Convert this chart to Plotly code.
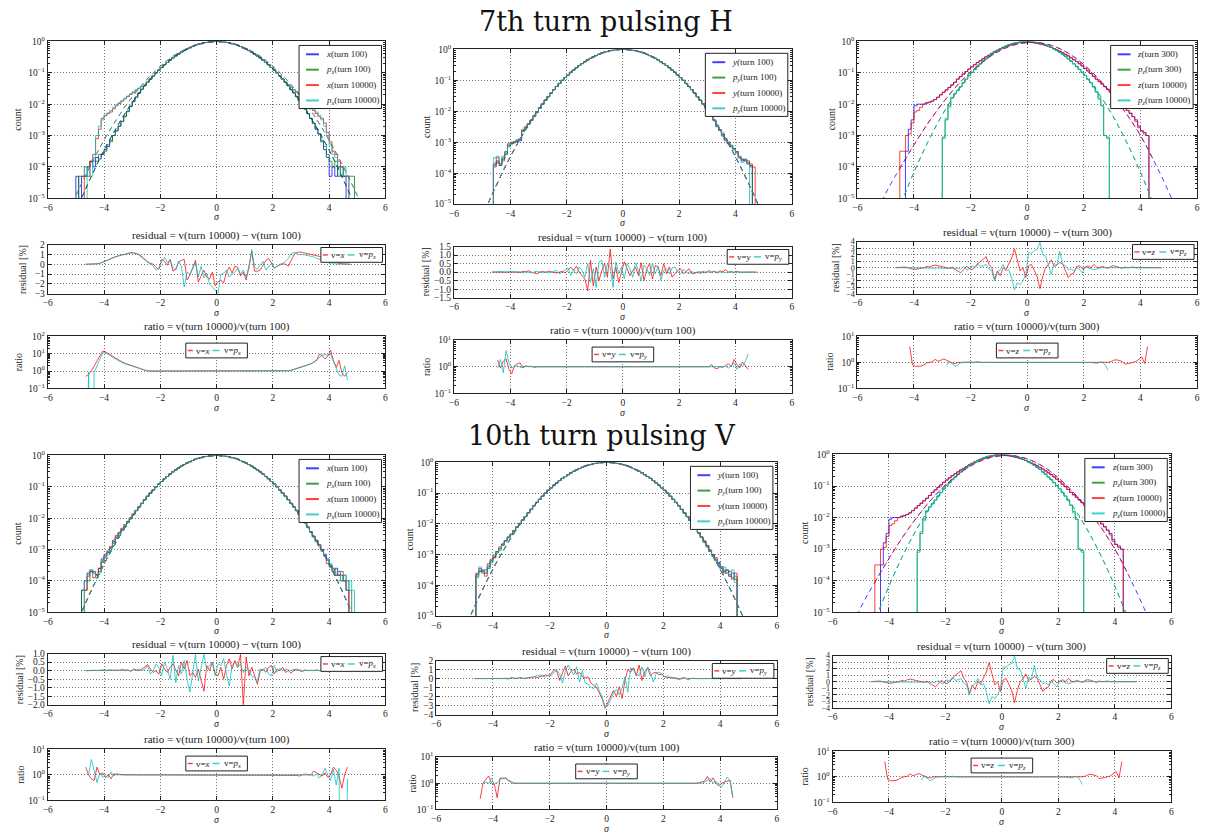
import plotly.graph_objects as go

W, H = 1212, 838
BIN = 0.1
FLOOR = 1e-12

# ---------------- histogram heights: log10 of normalised counts, 0.1-sigma bins ----------------
# shared centre of the transverse planes, bins centred -2.45 ... 2.45
CORE_GAUSS = [
    -1.30, -1.20, -1.10, -1.00, -0.91, -0.83, -0.74, -0.67, -0.59, -0.52,
    -0.46, -0.40, -0.34, -0.29, -0.24, -0.20, -0.16, -0.12, -0.09, -0.07,
    -0.04, -0.03, -0.01, -0.01, 0.00, 0.00, -0.01, -0.01, -0.03, -0.04,
    -0.07, -0.09, -0.12, -0.16, -0.20, -0.24, -0.29, -0.34, -0.40, -0.46,
    -0.52, -0.59, -0.67, -0.74, -0.83, -0.91, -1.00, -1.10, -1.20, -1.30,
]

# 7th turn pulsing H, x plane.  *_L tails end at bin -2.55, *_R tails start at bin 2.55
H_X100_L = [-4.3, None, -4.3, -4.3, -4.0, -3.82, -4.0, -3.7, -3.75, -3.6, -3.45, -3.35, -3.15,
            -3.0, -2.85, -2.7, -2.55, -2.38, -2.22, -2.07, -1.91, -1.77, -1.64, -1.52, -1.40]
H_X100_R = [-1.41, -1.53, -1.64, -1.76, -1.89, -2.02, -2.15, -2.3, -2.45, -2.6, -2.8, -2.95,
            -3.2, -3.45, -3.7, -4.3, -4.0, -4.3, -4.0, -4.3, -4.3]
H_PX100_L = [None, -4.3, -4.3, -4.0, -4.0, -3.82, -3.82, -3.82, -3.6, -3.6, -3.5, -3.3, -3.2,
             -3.0, -2.85, -2.7, -2.55, -2.4, -2.24, -2.08, -1.92, -1.78, -1.65, -1.53, -1.41]
H_PX100_R = [-1.41, -1.53, -1.64, -1.76, -1.89, -2.02, -2.16, -2.3, -2.46, -2.62, -2.78, -2.95,
             -3.15, -3.35, -3.6, -3.82, -4.0, -3.82, -4.3, -4.0, -4.3, -4.3, -4.3, -4.3]
H_X10K_L = [None, None, None, -4.3, -4.3, -3.82, -3.6, -3.1, -2.8, -2.45, -2.35, -2.3, -2.25,
            -2.15, -2.05, -1.98, -1.9, -1.83, -1.76, -1.69, -1.62, -1.55, -1.49, -1.44, -1.39]
H_X10K_R = [-1.38, -1.46, -1.54, -1.62, -1.7, -1.8, -1.9, -2.0, -2.1, -2.2, -2.3, -2.4,
            -2.45, -2.6, -2.9, -3.2, -3.5, -3.6, -3.82, -4.0, -4.3, -4.3]
H_PX10K_L = [None, None, None, None, -4.0, -4.3, -3.7, -3.0, -2.7, -2.5, -2.38, -2.28, -2.2,
             -2.1, -2.02, -1.95, -1.88, -1.81, -1.74, -1.67, -1.61, -1.55, -1.49, -1.44, -1.39]
H_PX10K_R = [-1.38, -1.45, -1.53, -1.61, -1.69, -1.78, -1.87, -1.96, -2.05, -2.15, -2.25, -2.35,
             -2.5, -2.7, -3.0, -3.3, -3.6, -3.7, -4.0, -4.3, -4.0, -4.3]

# 7th turn pulsing H, y plane
H_Y100_L = [None, None, None, None, -3.70, -3.65, -3.75, -3.55, -3.35, -3.10, -3.05, -3.00, -2.98,
            -2.95, -2.62, -2.52, -2.42, -2.30, -2.17, -2.03, -1.90, -1.77, -1.64, -1.53, -1.41]
H_Y100_R = [-1.41, -1.53, -1.64, -1.76, -1.89, -2.02, -2.15, -2.29, -2.5, -2.6, -2.75, -2.9,
            -3.0, -3.1, -3.2, -3.35, -3.5, -3.6, -3.55, -3.7, -3.75]
H_PY100_L = [None, None, None, None, -3.75, -3.60, -3.70, -3.50, -3.40, -3.15, -3.05, -2.98, -2.95,
             -2.90, -2.66, -2.55, -2.42, -2.29, -2.16, -2.02, -1.89, -1.77, -1.64, -1.53, -1.41]
H_PY100_R = [-1.41, -1.53, -1.64, -1.76, -1.89, -2.02, -2.15, -2.3, -2.45, -2.62, -2.8, -2.88,
             -3.05, -3.12, -3.25, -3.3, -3.5, -3.55, -3.6, -3.65, -3.8]
H_Y10K_L = [None, None, None, None, -3.80, -3.50, -3.70, -3.60, -3.30, -3.05, -3.00, -3.02, -2.92,
            -2.90, -2.60, -2.50, -2.40, -2.28, -2.14, -2.03, -1.88, -1.76, -1.65, -1.52, -1.41]
H_Y10K_R = [-1.41, -1.53, -1.65, -1.76, -1.88, -2.02, -2.16, -2.28, -2.45, -2.6, -2.7, -2.95,
            -3.0, -3.15, -3.2, -3.3, -3.45, -3.55, -3.6, -3.6, -3.7, -3.8]
H_PY10K_L = [None, None, None, None, -3.50, -3.45, -3.70, -3.45, -3.30, -3.10, -3.00, -3.00, -2.95,
             -2.88, -2.64, -2.52, -2.41, -2.28, -2.16, -2.02, -1.90, -1.76, -1.64, -1.53, -1.41]
H_PY10K_R = [-1.41, -1.52, -1.64, -1.77, -1.89, -2.03, -2.15, -2.28, -2.48, -2.6, -2.78, -2.9,
             -3.02, -3.1, -3.22, -3.32, -3.5, -3.65, -3.55, -3.7]

# longitudinal plane (same in both runs): z tails end at -2.55 / start at 2.55
CORE_Z = [
    -1.20, -1.12, -1.04, -0.96, -0.88, -0.81, -0.74, -0.67, -0.61, -0.55,
    -0.49, -0.44, -0.38, -0.33, -0.28, -0.24, -0.20, -0.16, -0.13, -0.10,
    -0.07, -0.05, -0.03, -0.02, -0.02, -0.02, -0.03, -0.04, -0.06, -0.08,
    -0.10, -0.13, -0.16, -0.19, -0.23, -0.27, -0.31, -0.36, -0.41, -0.46,
    -0.52, -0.58, -0.64, -0.71, -0.78, -0.86, -0.94, -1.02, -1.11, -1.20,
]
Z300_L = [None, None, -3.5, -2.8, -2.5, -2.05, -2.0, -2.0, -2.0, -1.97,
          -1.93, -1.9, -1.85, -1.78, -1.7, -1.62, -1.55, -1.47, -1.39, -1.3]
Z300_R = [-1.28, -1.36, -1.44, -1.53, -1.62, -1.7, -1.8, -1.9, -2.0,
          -2.1, -2.2, -2.3, -2.4, -2.5, -2.7, -2.85, -2.9, -3.0]
Z10K_L = [-3.5, -3.5, -3.0, -2.95, -2.6, -2.25, -2.2, -2.1, -2.0, -1.95,
          -1.95, -1.9, -1.85, -1.78, -1.7, -1.62, -1.54, -1.46, -1.38, -1.3]
Z10K_R = [-1.28, -1.35, -1.44, -1.52, -1.6, -1.7, -1.8, -1.88, -1.98,
          -2.1, -2.2, -2.28, -2.4, -2.55, -2.75, -2.85, -2.95, -3.0]
# p_z histograms, bins centred -2.95 ... 2.85
PZ300 = [
    -3.05, -2.5, -2.05, -1.8, -1.67, -1.56, -1.44, -1.32, -1.2, -1.09,
    -0.99, -0.89, -0.8, -0.71, -0.63, -0.55, -0.47, -0.41, -0.34, -0.29,
    -0.235, -0.19, -0.147, -0.11, -0.079, -0.053, -0.032, -0.016, -0.006, -0.001,
    -0.001, -0.006, -0.016, -0.032, -0.053, -0.079, -0.11, -0.147, -0.19, -0.235,
    -0.29, -0.34, -0.41, -0.47, -0.55, -0.63, -0.71, -0.8, -0.89, -0.99,
    -1.09, -1.2, -1.32, -1.44, -1.6, -1.8, -2.05, -3.0, -3.05,
]
PZ10K = [
    -3.1, -2.45, -2.1, -1.78, -1.65, -1.55, -1.45, -1.31, -1.21, -1.08,
    -0.98, -0.9, -0.79, -0.72, -0.62, -0.56, -0.47, -0.4, -0.35, -0.28,
    -0.24, -0.18, -0.15, -0.1, -0.08, -0.05, -0.035, -0.012, -0.01, 0.0,
    0.0, -0.01, -0.012, -0.035, -0.05, -0.08, -0.1, -0.15, -0.18, -0.24,
    -0.28, -0.35, -0.4, -0.47, -0.56, -0.62, -0.72, -0.79, -0.9, -0.98,
    -1.08, -1.21, -1.31, -1.45, -1.62, -1.85, -2.05, -3.0, -3.1,
]

# 10th turn pulsing V, x plane
V_X100_L = [None, None, -4.3, -4.0, -3.75, -3.7, -3.75, -3.8, -3.6, -3.3, -3.2, -3.05, -2.95,
            -2.75, -2.6, -2.48, -2.35, -2.25, -2.12, -2.0, -1.88, -1.76, -1.64, -1.53, -1.41]
V_X100_R = [-1.41, -1.53, -1.64, -1.76, -1.89, -2.02, -2.15, -2.29, -2.44, -2.58, -2.72, -2.85,
            -3.0, -3.15, -3.3, -3.5, -3.7, -3.6, -3.82, -3.82, -4.0, -4.3]
V_PX100_L = [None, None, -4.3, -4.3, -4.0, -3.65, -3.7, -3.82, -3.7, -3.4, -3.25, -3.1, -2.95,
             -2.8, -2.65, -2.5, -2.38, -2.27, -2.14, -2.02, -1.89, -1.76, -1.64, -1.53, -1.41]
V_PX100_R = [-1.41, -1.53, -1.64, -1.76, -1.89, -2.02, -2.15, -2.29, -2.43, -2.57, -2.72, -2.88,
             -3.02, -3.2, -3.35, -3.5, -3.65, -3.82, -3.7, -4.0, -3.82, -4.0, -4.3]
V_X10K_L = [None, None, None, -4.3, -3.85, -3.7, -3.9, -3.8, -3.6, -3.4, -3.15, -3.1, -2.9,
            -2.7, -2.55, -2.45, -2.32, -2.2, -2.1, -1.98, -1.86, -1.75, -1.64, -1.52, -1.41]
V_X10K_R = [-1.41, -1.52, -1.64, -1.75, -1.88, -2.0, -2.14, -2.28, -2.44, -2.6, -2.7, -2.85,
            -3.0, -3.2, -3.45, -3.55, -3.6, -3.82, -3.82, -3.7, -4.0, -4.3]
V_PX10K_L = [None, None, None, -4.0, -3.8, -3.65, -3.7, -3.9, -3.75, -3.35, -3.2, -3.08, -2.98,
             -2.78, -2.62, -2.48, -2.36, -2.24, -2.12, -2.0, -1.88, -1.76, -1.64, -1.53, -1.41]
V_PX10K_R = [-1.41, -1.53, -1.65, -1.76, -1.89, -2.02, -2.16, -2.3, -2.45, -2.6, -2.75, -2.88,
             -3.05, -3.2, -3.35, -3.45, -3.6, -3.75, -3.7, -4.0, -3.82, -4.3, -4.0, -4.3]

# 10th turn pulsing V, y plane
V_Y100_L = [None, None, None, None, -3.65, -3.55, -3.5, -3.6, -3.4, -3.2, -3.05, -2.9, -2.8,
            -2.65, -2.55, -2.45, -2.35, -2.22, -2.1, -2.0, -1.88, -1.76, -1.64, -1.53, -1.41]
V_Y100_R = [-1.41, -1.53, -1.64, -1.76, -1.89, -2.02, -2.15, -2.29, -2.43, -2.57, -2.7, -2.85,
            -3.0, -3.15, -3.25, -3.4, -3.55, -3.5, -3.7, -3.6, -3.8]
V_PY100_L = [None, None, None, None, -3.7, -3.5, -3.6, -3.5, -3.45, -3.25, -3.1, -2.95, -2.85,
             -2.7, -2.55, -2.42, -2.33, -2.22, -2.1, -1.99, -1.88, -1.76, -1.64, -1.53, -1.41]
V_PY100_R = [-1.41, -1.53, -1.64, -1.76, -1.89, -2.02, -2.16, -2.3, -2.44, -2.6, -2.72, -2.88,
             -3.02, -3.2, -3.3, -3.45, -3.5, -3.6, -3.55, -3.75, -3.7]
V_Y10K_L = [None, None, None, None, -3.6, -3.45, -3.55, -3.7, -3.3, -3.15, -3.1, -2.9, -2.75,
            -2.68, -2.55, -2.44, -2.34, -2.21, -2.1, -1.98, -1.87, -1.76, -1.64, -1.52, -1.41]
V_Y10K_R = [-1.41, -1.53, -1.65, -1.76, -1.88, -2.02, -2.15, -2.28, -2.42, -2.55, -2.72, -2.9,
            -3.0, -3.1, -3.3, -3.4, -3.6, -3.5, -3.65, -3.8, -3.6]
V_PY10K_L = [None, None, None, None, -3.75, -3.4, -3.5, -3.6, -3.35, -3.2, -3.0, -2.92, -2.8,
             -2.7, -2.56, -2.45, -2.34, -2.22, -2.11, -2.0, -1.88, -1.76, -1.64, -1.53, -1.41]
V_PY10K_R = [-1.41, -1.52, -1.64, -1.77, -1.89, -2.03, -2.15, -2.3, -2.45, -2.58, -2.75, -2.85,
             -3.05, -3.15, -3.3, -3.5, -3.4, -3.6, -3.7, -3.5, -3.9]

# ---------------- Gaussian fits (log10), sampled every 0.5 sigma ----------------
FIT_SIGMA = [-5.5, -5.0, -4.5, -4.0, -3.5, -3.0, -2.5, -2.0, -1.5, -1.0, -0.5, 0.0,
             0.5, 1.0, 1.5, 2.0, 2.5, 3.0, 3.5, 4.0, 4.5, 5.0, 5.5]
FIT_UNIT = [-6.57, -5.43, -4.40, -3.47, -2.66, -1.95, -1.36, -0.87, -0.49, -0.22, -0.05, 0.0,
            -0.05, -0.22, -0.49, -0.87, -1.36, -1.95, -2.66, -3.47, -4.40, -5.43, -6.57]
FIT_WIDE = [-5.96, -4.92, -3.99, -3.15, -2.41, -1.77, -1.23, -0.79, -0.44, -0.20, -0.05, 0.0,
            -0.05, -0.20, -0.44, -0.79, -1.23, -1.77, -2.41, -3.15, -3.99, -4.92, -5.96]
FIT_Z = [-5.9, -4.85, -4.05, -3.3, -2.6, -1.98, -1.43, -0.97, -0.6, -0.31, -0.12, -0.04,
         -0.05, -0.17, -0.4, -0.74, -1.17, -1.7, -2.3, -3.0, -3.85, -4.8, -5.85]
FIT_PZ = [-7.88, -6.51, -5.28, -4.17, -3.19, -2.34, -1.63, -1.04, -0.59, -0.26, -0.065, 0.0,
          -0.065, -0.26, -0.59, -1.04, -1.63, -2.34, -3.19, -4.17, -5.28, -6.51, -7.88]

# ---------------- residuals [%], points every 0.1 sigma from -4.65 ----------------
RES_START = -4.65
RES_H_X = [
    0.0, 0.0, 0.0, 0.02, 0.05, 0.1, 0.2, 0.3, 0.4, 0.55,
    0.7, 0.8, 0.9, 0.95, 1.0, 1.1, 1.15, 1.15, 1.1, 1.0,
    0.75, 0.5, 0.25, 0.1, 0.0, -0.3, -0.5, 0.5, 0.3, -0.1,
    0.5, -0.7, -0.5, 0.2, 0.4, 0.5, -1.6, -1.1, -0.4, 0.4,
    -1.8, -1.2, -0.6, -1.3, -1.5, -0.8, -2.2, -1.8, -1.6, -1.9,
    -0.8, -0.3, -0.9, -0.2, -0.3, -1.2, -0.8, -1.6, -0.3, 1.3,
    -0.7, -0.7, -0.6, -0.1, 0.4, 0.6, 0.1, -0.4, -0.2, -0.1,
    0.05, 0.0, -0.2, 0.4, 1.0, 1.2, 1.25, 1.2, 1.1, 1.05,
    1.0, 0.95, 0.9, 0.8, 0.7, 0.55, 0.45, 0.35, 0.25, 0.15,
    0.1, 0.05, 0.02, 0.0, 0.0,
]
RES_H_PX = [
    0.0, 0.0, 0.0, 0.02, 0.05, 0.1, 0.2, 0.3, 0.45, 0.6,
    0.7, 0.85, 0.9, 0.95, 1.05, 1.15, 1.2, 1.15, 1.1, 0.9,
    0.7, 0.45, 0.2, 0.05, -0.2, -0.6, -0.4, 0.3, 0.7, 0.2,
    0.4, -0.3, -0.6, 0.3, -0.2, -2.3, -0.8, -1.0, -0.5, 0.2,
    -1.3, -0.2, -1.4, -0.9, -2.0, -2.3, -2.6, -2.95, -1.0, -0.9,
    -0.6, -1.3, -1.0, -0.8, -0.4, -1.0, -0.6, -1.3, -0.5, 1.5,
    -0.3, -0.5, -0.1, 0.3, -0.6, -0.3, 0.1, -0.4, -0.2, 0.0,
    0.1, 0.3, 0.6, 1.1, 1.2, 1.05, 0.95, 1.0, 0.95, 0.9,
    0.85, 0.75, 0.6, 0.5, 0.4, 0.3, 0.2, 0.12, 0.06, 0.03,
    0.01, 0.0, 0.0, 0.0, 0.0,
]
RES_H_Y = [
    0.0, 0.0, 0.02, 0.0, 0.03, 0.02, 0.0, 0.04, 0.02, 0.0,
    -0.02, 0.05, 0.03, 0.08, 0.0, -0.05, -0.1, 0.0, 0.05, -0.02,
    0.05, 0.02, 0.0, -0.05, 0.0, 0.05, -0.05, 0.1, 0.3, 0.1,
    0.35, 0.0, -0.2, -0.4, -1.1, 0.7, -0.8, 0.3, -0.5, 0.1,
    0.5, -0.3, 1.35, -0.4, 0.3, -0.6, 0.0, 0.6, 0.2, -0.2,
    0.1, 0.3, -0.2, 0.55, -0.5, 0.2, 0.5, -0.4, 0.4, 0.3,
    -0.2, 0.5, -0.1, 0.3, -0.3, -0.1, 0.1, 0.2, -0.1, 0.05,
    0.2, -0.1, -0.05, 0.0, -0.08, 0.05, -0.05, 0.1, 0.0, 0.05,
    -0.05, 0.08, 0.02, 0.15, 0.0, 0.03, -0.02, 0.05, 0.0, 0.02,
    0.0, 0.01, 0.0, 0.0, 0.0,
]
RES_H_PY = [
    0.0, 0.02, 0.03, 0.05, 0.02, 0.0, 0.03, 0.02, 0.05, 0.0,
    0.02, -0.05, 0.03, 0.0, -0.05, 0.02, 0.05, 0.0, -0.02, 0.03,
    -0.05, 0.0, 0.05, 0.1, -0.1, 0.0, 0.1, 0.25, -0.2, 0.15,
    -0.1, 0.3, 0.1, -0.3, 0.5, -0.6, 0.2, -0.9, 0.6, 0.7,
    -0.3, 0.5, 0.3, -0.9, 0.6, -0.1, 0.3, -0.4, 0.5, 0.2,
    -0.3, 0.55, 0.1, -0.5, 0.4, 0.2, -0.2, 0.5, -0.1, 0.35,
    -0.5, 0.1, 0.2, -0.1, 0.25, 0.3, 0.0, -0.1, 0.15, 0.0,
    -0.1, 0.05, -0.1, 0.0, 0.05, -0.05, 0.03, 0.0, -0.03, 0.05,
    0.0, 0.02, 0.0, -0.02, 0.01, 0.0, 0.0, 0.0, 0.0, 0.0,
    0.0, 0.0, 0.0, 0.0, 0.0,
]
RES_Z = [
    0.0, 0.05, 0.1, 0.1, 0.05, -0.1, -0.2, -0.25, -0.2, -0.1,
    0.0, 0.2, 0.1, 0.3, 0.4, 0.3, 0.2, 0.1, 0.0, -0.1,
    0.1, -0.3, -0.5, -0.8, -0.3, 0.2, -0.1, -0.3, 0.0, 0.5,
    1.0, 1.3, 1.7, 0.5, 0.0, -1.8, -0.5, -1.2, 0.0, -0.3,
    0.5, 1.5, 2.9, 1.2, -0.5, 0.0, -1.5, 0.3, 0.5, -0.4,
    -1.4, -3.2, -1.3, 0.0, 0.5, 1.2, 0.2, 0.4, 0.8, 0.6,
    -0.5, -1.5, -1.0, -0.8, 0.2, 0.3, -0.2, 0.0, 0.3, 0.0,
    0.5, 0.1, 0.0, 0.2, 0.0, -0.1, 0.2, 0.3, 0.2, 0.0,
    -0.1, 0.1, 0.0, 0.05, 0.1, 0.0, 0.05, 0.0, 0.0, 0.0,
    0.0, 0.0, 0.0, 0.0, 0.0,
]
RES_PZ = [
    0.0, 0.0, 0.0, 0.0, 0.0, 0.0, 0.0, 0.0, 0.0, 0.0,
    0.0, 0.0, 0.0, 0.0, 0.0, 0.0, 0.0, 0.0, 0.0, 0.0,
    0.0, 0.0, -0.1, -0.2, 0.2, -0.3, -0.2, 0.3, 0.1, 0.7,
    0.2, 0.3, 0.5, -0.2, -0.5, -2.0, -0.6, -0.3, 0.5, -0.5,
    -0.3, -1.6, -3.4, -2.3, -2.6, -2.0, -1.0, 2.3, 2.2, 2.6,
    2.8, 3.9, 2.0, 1.8, 0.5, -1.0, 0.7, 0.4, 2.5, 0.5,
    0.3, -0.3, -0.2, -0.5, 0.0, -0.3, -0.8, 0.1, 0.0, -0.2,
    -0.3, -0.2, 0.0, 0.0, 0.0, 0.0, 0.0, 0.0, 0.0, 0.0,
    0.0, 0.0, 0.0, 0.0, 0.0, 0.0, 0.0, 0.0, 0.0, 0.0,
    0.0, 0.0, 0.0, 0.0, 0.0,
]
RES_V_X = [
    0.0, 0.0, 0.02, 0.0, 0.03, 0.0, 0.02, 0.0, 0.03, 0.05,
    0.0, 0.05, 0.02, 0.08, 0.0, 0.05, -0.05, 0.1, 0.05, 0.0,
    0.1, 0.2, 0.35, 0.1, -0.1, 0.0, -0.2, 0.4, 0.1, -0.1,
    0.2, 0.4, 0.0, -0.3, 0.5, 0.1, 0.6, -0.3, -0.1, -0.4,
    0.1, -0.6, -1.2, 0.3, 0.0, 0.5, -0.2, -0.3, 0.2, -0.5,
    0.3, 0.7, 0.1, 0.6, 0.2, 0.95, -2.0, 0.8, -0.3, 0.2,
    -0.3, -0.8, 0.0, 0.1, -0.1, 0.2, 0.3, -0.2, 0.1, 0.0,
    0.2, -0.1, 0.0, -0.15, 0.05, 0.1, 0.0, -0.05, 0.05, 0.0,
    0.03, 0.0, 0.05, 0.0, 0.02, 0.0, 0.05, 0.02, 0.0, 0.03,
    0.0, 0.0, 0.0, 0.0, 0.0,
]
RES_V_PX = [
    0.0, 0.02, 0.0, 0.03, 0.0, 0.02, 0.05, 0.0, 0.03, 0.0,
    0.05, 0.0, 0.03, 0.0, 0.05, 0.02, 0.0, 0.05, 0.0, 0.1,
    0.0, 0.1, 0.3, -0.2, 0.0, 0.4, 0.2, -0.3, 0.5, 0.1,
    -0.5, 0.9, -0.7, 0.3, -0.2, 0.6, -0.5, -1.25, 0.0, 0.95,
    -0.6, 0.2, 0.95, 0.1, 0.3, 0.5, -0.3, 0.4, 0.3, 0.7,
    -0.2, -0.9, 0.3, 0.5, 0.2, 0.4, -0.1, 0.2, 0.0, -0.3,
    -0.4, -0.6, 0.1, 0.0, 0.2, -0.2, -0.3, 0.3, -0.1, 0.15,
    0.0, 0.1, 0.05, 0.0, 0.1, 0.0, 0.05, 0.0, 0.03, 0.0,
    0.0, 0.02, 0.0, 0.0, 0.0, 0.0, 0.0, 0.0, 0.0, 0.0,
    0.0, 0.0, 0.0, 0.0, 0.0,
]
RES_V_Y = [
    0.0, 0.0, 0.02, 0.0, -0.02, 0.03, 0.0, 0.02, 0.05, 0.0,
    0.05, 0.0, -0.05, 0.08, 0.05, 0.0, 0.1, 0.05, 0.0, 0.1,
    0.1, 0.2, 0.1, 0.2, 0.3, 0.4, 0.3, 0.5, 1.0, 0.8,
    -0.2, 0.6, 1.4, 0.3, 0.8, 1.0, 0.5, 0.7, 0.2, 0.1,
    0.2, -0.5, -0.8, -1.0, -1.6, -2.3, -3.3, -2.6, -1.8, -1.3,
    -2.0, -0.9, -2.2, -0.2, 1.0, 0.7, 1.2, 0.3, 1.5, -0.2,
    0.8, 1.2, 0.3, 0.6, 0.7, 0.4, 0.5, 0.2, 0.1, 0.15,
    0.1, 0.0, -0.1, 0.05, 0.1, -0.1, 0.0, 0.05, 0.0, 0.0,
    0.02, 0.0, 0.03, 0.0, 0.02, 0.0, 0.0, 0.0, 0.0, 0.0,
    0.0, 0.0, 0.0, 0.0, 0.0,
]
RES_V_PY = [
    0.0, 0.02, 0.0, 0.03, 0.0, 0.0, 0.02, 0.0, 0.05, 0.02,
    0.0, 0.05, 0.0, 0.1, 0.0, 0.05, 0.1, 0.0, 0.05, 0.1,
    0.1, 0.2, 0.3, 0.4, 0.3, 0.2, 0.4, 0.3, 0.7, 0.9,
    0.5, -0.5, 0.8, 1.5, 0.9, 0.4, 1.3, -0.4, 0.9, -0.5,
    -0.6, -1.0, -1.1, -0.5, -1.4, -2.0, -3.2, -3.0, -2.3, -1.6,
    -1.2, -1.8, -1.0, 0.2, -1.5, 1.2, 1.0, 0.5, 0.3, 1.3,
    0.2, 1.3, 0.6, -0.4, 0.6, 0.7, 0.5, 0.2, 0.3, 0.1,
    0.0, 0.1, 0.0, -0.05, 0.05, 0.0, 0.02, 0.0, 0.0, 0.0,
    0.0, 0.0, 0.0, 0.0, 0.0, 0.0, 0.0, 0.0, 0.0, 0.0,
    0.0, 0.0, 0.0, 0.0, 0.0,
]

# ---------------- ratios turn 10000 / reference turn, points every 0.1 sigma ----------------
RAT_START = {"H_X": -4.65, "H_PX": -4.65, "H_Y": -4.45, "H_PY": -4.45, "Z": -4.15, "PZ": -2.85,
             "V_X": -4.65, "V_PX": -4.55, "V_Y": -4.45, "V_PY": -4.35}
RAT_H_X = [
    0.5, 0.63, 1.0, 2.0, 4.0, 8.0, 14.0, 12.6, 10.0, 8.0,
    6.3, 4.8, 4.0, 3.3, 2.8, 2.5, 2.2, 1.9, 1.66, 1.45,
    1.26, 1.1, 1.02, 1.0, 1.0, 1.0, 0.99, 1.0, 1.0, 1.0,
    1.0, 1.01, 1.0, 1.0, 0.99, 1.0, 1.0, 1.0, 1.0, 1.0,
    1.0, 1.0, 1.0, 0.99, 1.0, 1.0, 0.98, 1.0, 1.0, 1.0,
    1.0, 1.0, 1.0, 1.0, 1.0, 0.99, 1.0, 1.0, 1.0, 1.01,
    1.0, 1.0, 1.0, 1.0, 1.0, 1.0, 1.0, 1.0, 1.0, 1.0,
    1.0, 1.0, 1.05, 1.12, 1.26, 1.4, 1.6, 1.8, 2.0, 2.3,
    2.6, 3.2, 4.0, 9.0, 8.0, 5.0, 7.0, 16.0, 4.0, 1.6,
    4.0, 0.8, 0.5, 0.8,
]
RAT_H_PX = [
    0.0, 0.9, 0.0, 0.8, 2.0, 5.0, 11.0, 12.0, 9.0, 7.0,
    5.5, 4.5, 3.6, 3.0, 2.6, 2.3, 2.0, 1.8, 1.6, 1.4,
    1.22, 1.08, 1.02, 1.0, 1.0, 1.0, 1.0, 1.0, 1.01, 1.0,
    1.0, 1.0, 0.99, 1.0, 1.0, 1.0, 1.0, 1.0, 1.0, 1.0,
    1.0, 1.0, 1.0, 1.0, 1.0, 0.99, 1.0, 1.0, 1.0, 1.0,
    1.0, 1.0, 1.0, 1.0, 1.0, 1.0, 1.01, 1.0, 1.0, 1.0,
    1.0, 1.0, 1.0, 1.0, 1.0, 1.0, 1.0, 1.0, 1.0, 1.0,
    1.0, 1.0, 1.03, 1.1, 1.2, 1.35, 1.55, 1.75, 2.0, 2.2,
    2.6, 3.3, 4.5, 6.0, 8.0, 9.0, 8.0, 9.0, 4.0, 1.5,
    0.6, 0.5, 2.0, 0.3,
]
RAT_H_Y = [
    1.8, 0.9, 1.6, 2.0, 0.8, 0.55, 1.1, 1.3, 1.4, 0.9,
    1.1, 1.0, 1.05, 0.95, 1.0, 1.0, 1.02, 1.0, 1.0, 1.0,
    1.0, 1.0, 1.01, 1.0, 1.0, 0.99, 1.0, 1.0, 1.0, 1.0,
    1.0, 1.0, 1.0, 1.0, 1.01, 1.0, 1.0, 1.0, 0.99, 1.0,
    1.0, 1.0, 1.0, 1.0, 1.0, 1.0, 1.0, 1.0, 1.0, 1.0,
    1.0, 1.01, 1.0, 1.0, 1.0, 1.0, 0.99, 1.0, 1.0, 1.0,
    1.0, 1.0, 1.0, 1.0, 1.0, 1.0, 1.01, 1.0, 1.0, 1.0,
    1.0, 1.0, 1.0, 1.0, 1.0, 1.0, 1.2, 0.9, 0.85, 1.0,
    0.95, 1.1, 1.3, 1.0, 1.9, 1.2, 0.9, 1.5, 1.1, 0.8,
]
RAT_H_PY = [
    0.9, 1.9, 0.6, 4.0, 1.4, 0.9, 1.0, 1.1, 0.95, 1.0,
    1.0, 1.05, 1.0, 1.0, 1.0, 1.0, 1.0, 1.0, 1.0, 1.0,
    1.0, 1.0, 1.0, 1.01, 1.0, 1.0, 1.0, 1.0, 1.0, 0.99,
    1.0, 1.0, 1.0, 1.0, 1.0, 1.0, 1.0, 1.01, 1.0, 1.0,
    1.0, 1.0, 1.0, 1.0, 1.0, 1.0, 1.0, 1.0, 1.0, 1.0,
    1.0, 1.0, 0.99, 1.0, 1.0, 1.0, 1.0, 1.0, 1.0, 1.0,
    1.0, 1.0, 1.0, 1.0, 1.0, 1.0, 1.0, 1.0, 1.01, 1.0,
    1.0, 1.0, 1.0, 1.0, 1.0, 1.0, 1.0, 1.0, 0.95, 1.0,
    1.0, 1.05, 0.9, 1.1, 1.4, 0.8, 1.3, 1.0, 1.6, 3.0,
]
RAT_Z = [
    4.0, 0.8, 0.7, 0.7, 0.72, 0.8, 0.95, 1.0, 1.05, 1.3,
    1.1, 1.2, 1.35, 1.2, 1.05, 0.95, 0.9, 1.0, 1.0, 1.02,
    1.0, 1.0, 1.02, 1.0, 1.05, 1.0, 1.0, 1.02, 1.0, 1.0,
    1.0, 1.03, 1.0, 1.0, 1.0, 1.0, 1.02, 1.0, 0.98, 1.0,
    1.0, 1.0, 1.0, 1.02, 1.0, 1.0, 1.0, 0.98, 1.0, 1.0,
    1.0, 1.02, 1.0, 1.0, 1.0, 1.0, 1.0, 1.0, 1.0, 1.0,
    0.98, 1.0, 1.0, 1.02, 1.0, 1.0, 1.0, 1.0, 1.0, 1.0,
    1.0, 1.05, 1.2, 1.25, 1.2, 1.1, 0.85, 0.9, 0.9, 1.0,
    1.1, 1.3, 1.6, 0.9, 4.0,
]
RAT_PZ = [
    0.75, 1.1, 0.9, 0.7, 0.8, 0.95, 1.0, 1.0, 1.02, 1.0,
    1.0, 1.0, 1.0, 1.02, 1.0, 1.0, 1.0, 1.0, 1.0, 1.0,
    1.0, 1.01, 1.0, 1.0, 1.0, 1.0, 1.0, 1.0, 1.0, 1.0,
    1.0, 1.0, 1.0, 1.02, 1.0, 1.0, 1.0, 1.0, 1.0, 1.0,
    1.0, 1.0, 1.0, 1.0, 1.0, 1.0, 1.0, 1.0, 1.0, 1.0,
    1.0, 0.98, 0.95, 0.9, 1.0, 1.05, 0.8, 0.5,
]
RAT_V_X = [
    2.0, 1.0, 0.7, 0.6, 2.0, 1.0, 1.2, 0.8, 1.0, 0.7,
    1.1, 1.0, 1.05, 1.0, 1.0, 1.0, 1.0, 1.0, 1.0, 1.0,
    1.0, 1.0, 1.0, 1.0, 1.01, 1.0, 1.0, 1.0, 1.0, 1.0,
    1.0, 1.0, 1.0, 1.0, 1.0, 1.0, 0.99, 1.0, 1.0, 1.0,
    1.0, 1.0, 1.0, 1.0, 1.0, 1.0, 1.0, 1.0, 1.0, 1.0,
    1.0, 1.0, 1.0, 1.01, 1.0, 1.0, 1.0, 1.0, 1.0, 1.0,
    1.0, 1.0, 1.0, 1.0, 1.0, 1.0, 1.0, 1.0, 1.0, 1.0,
    1.0, 1.0, 1.0, 1.0, 1.0, 0.95, 0.9, 1.0, 1.0, 1.0,
    1.0, 1.4, 1.2, 1.0, 0.9, 1.2, 0.8, 1.0, 2.0, 1.5,
    0.9, 0.3, 1.0, 2.0,
]
RAT_V_PX = [
    1.0, 4.0, 1.5, 0.5, 1.2, 0.8, 0.9, 0.8, 1.3, 0.9,
    1.15, 1.0, 1.0, 1.0, 1.0, 1.0, 1.0, 1.0, 1.0, 1.0,
    1.0, 1.0, 1.0, 1.0, 1.0, 1.0, 1.01, 1.0, 1.0, 1.0,
    1.0, 1.0, 1.0, 1.0, 1.0, 1.0, 1.0, 1.0, 1.0, 1.0,
    1.0, 0.99, 1.0, 1.0, 1.0, 1.0, 1.0, 1.0, 1.0, 1.0,
    1.0, 1.0, 1.0, 1.0, 1.0, 1.0, 1.0, 1.0, 1.0, 1.0,
    1.0, 1.0, 1.0, 1.0, 1.0, 1.0, 1.0, 1.0, 1.0, 1.0,
    1.0, 1.0, 1.0, 1.0, 1.0, 1.0, 1.0, 1.1, 1.0, 1.0,
    0.9, 1.1, 0.75, 1.0, 1.8, 1.0, 0.6, 1.6, 0.4, 1.8,
    0.0, 0.0, 0.7,
]
RAT_V_Y = [
    0.25, 1.0, 1.4, 1.9, 1.0, 0.9, 0.28, 1.6, 1.5, 1.6,
    1.3, 1.1, 1.0, 1.0, 1.02, 1.0, 1.0, 1.0, 1.0, 1.0,
    1.0, 1.0, 1.0, 1.0, 1.0, 1.01, 1.0, 1.0, 1.0, 1.0,
    1.0, 1.0, 1.0, 1.0, 1.0, 1.0, 1.0, 1.0, 1.0, 1.0,
    1.0, 1.0, 1.0, 1.0, 1.0, 0.99, 1.0, 1.0, 1.0, 1.0,
    1.0, 1.0, 1.0, 1.0, 1.0, 1.0, 1.0, 1.0, 1.0, 1.0,
    1.0, 1.0, 1.0, 1.0, 1.0, 1.0, 1.0, 1.0, 1.0, 1.0,
    1.0, 1.0, 1.0, 0.98, 1.0, 1.02, 1.0, 1.05, 1.1, 1.2,
    1.8, 1.1, 1.6, 1.0, 0.8, 1.0, 1.1, 1.2, 1.3, 0.28,
]
RAT_V_PY = [
    1.0, 1.1, 1.0, 1.5, 0.9, 1.1, 1.4, 1.6, 1.5, 1.2,
    1.0, 1.0, 1.0, 1.0, 1.0, 1.0, 1.0, 1.0, 1.0, 1.0,
    1.0, 1.0, 1.0, 1.0, 1.0, 1.0, 1.0, 1.0, 1.0, 1.0,
    1.0, 1.0, 1.0, 1.0, 1.0, 1.0, 1.0, 1.0, 1.0, 1.0,
    1.0, 1.0, 1.0, 1.0, 1.0, 1.0, 1.0, 1.0, 1.0, 1.0,
    1.0, 1.0, 1.0, 1.0, 1.0, 1.0, 1.0, 1.0, 1.0, 1.0,
    1.0, 1.0, 1.0, 1.0, 1.0, 1.0, 1.0, 1.0, 1.0, 1.0,
    1.0, 1.0, 1.0, 1.0, 1.0, 1.0, 1.0, 1.0, 1.1, 1.3,
    1.5, 1.0, 1.2, 0.9, 0.7, 1.1, 1.7, 1.3, 0.3,
]

# ---------------- style ----------------
BLUE = "rgba(0,0,255,0.75)"
GREEN = "rgba(0,128,0,0.75)"
RED = "rgba(255,0,0,0.75)"
CYAN = "rgba(0,191,191,0.75)"
INK = "#222222"
SERIF = "Liberation Serif, DejaVu Serif, serif"
TITLE_FONT = "DejaVu Serif, serif"

# panel frames in pixels: (left, right, top, bottom)
FRAMES = {
    "A1h": (43, 383, 35, 194), "A1r": (43, 383, 241, 291), "A1q": (43, 383, 334, 387),
    "A2h": (452, 792, 43, 200), "A2r": (452, 792, 243, 295), "A2q": (452, 792, 338, 392),
    "A3h": (858, 1200, 35, 194), "A3r": (858, 1200, 238, 291), "A3q": (858, 1200, 334, 387),
    "B1h": (43, 383, 455, 614), "B1r": (43, 383, 656, 708), "B1q": (43, 383, 753, 805),
    "B2h": (434, 777, 462, 618), "B2r": (434, 777, 663, 718), "B2q": (434, 777, 761, 814),
    "B3h": (833, 1174, 454, 614), "B3r": (833, 1174, 658, 711), "B3q": (833, 1174, 755, 807),
}
YLABEL_GAP = {"A1h": 30, "A1r": 26, "A1q": 30, "A2h": 27, "A2r": 29, "A2q": 27,
              "A3h": 26, "A3r": 22, "A3q": 28, "B1h": 30, "B1r": 29, "B1q": 27,
              "B2h": 27, "B2r": 22, "B2q": 24, "B3h": 28, "B3r": 23, "B3q": 28}


def X(px):
    return px / W


def Y(py):
    return 1 - py / H


fig = go.Figure()
axes = {}
annotations = []
shapes = []
panel_no = {}


def sup(k):
    return "10<sup>" + ("\u2212" + str(-k) if k < 0 else str(k)) + "</sup>"


def ax_base(tick_size=9.5):
    return dict(showline=True, linecolor=INK, linewidth=1, mirror="allticks",
                ticks="inside", ticklen=4, tickcolor=INK, tickwidth=1,
                showgrid=True, gridcolor="rgba(0,0,0,0.55)", griddash="1px,2px", gridwidth=1,
                zeroline=False, tickfont=dict(family=SERIF, size=tick_size, color=INK))


def make_panel(key, ylog, yrange, ytickvals=None, yticktext=None, ylabel="", ytick_size=9.5):
    n = len(panel_no) + 1
    panel_no[key] = n
    sfx = "" if n == 1 else str(n)
    x0, x1, y0, y1 = FRAMES[key]
    xa = ax_base()
    xa.update(domain=[X(x0), X(x1)], anchor="y" + sfx, range=[-6, 6],
              tickmode="array", tickvals=[-6, -4, -2, 0, 2, 4, 6])
    ya = ax_base(ytick_size)
    ya.update(domain=[Y(y1), Y(y0)], anchor="x" + sfx)
    if ylog:
        lo, hi = yrange
        minor_vals = [m * 10 ** k for k in range(lo, hi) for m in range(2, 10)]
        ya.update(type="log", range=[lo, hi], tickmode="array",
                  tickvals=[10 ** k for k in range(lo, hi + 1)],
                  ticktext=[sup(k) for k in range(lo, hi + 1)],
                  minor=dict(tickmode="array", tickvals=minor_vals, ticks="inside",
                             ticklen=2, tickcolor=INK, showgrid=False))
    else:
        ya.update(range=yrange, tickmode="array", tickvals=ytickvals, ticktext=yticktext)
    axes["xaxis" + sfx] = xa
    axes["yaxis" + sfx] = ya
    # axis labels
    annotations.append(dict(x=X((x0 + x1) / 2), y=Y(y1 + 19), xref="paper", yref="paper",
                            text="<i>\u03c3</i>", showarrow=False, xanchor="center", yanchor="middle",
                            font=dict(family=SERIF, size=10, color=INK)))
    annotations.append(dict(x=X(x0 - YLABEL_GAP[key]), y=Y((y0 + y1) / 2), xref="paper", yref="paper",
                            text=ylabel, textangle=-90, showarrow=False, xanchor="center",
                            yanchor="middle", font=dict(family=SERIF, size=10, color=INK)))
    return "x" + sfx, "y" + sfx


def title_above(key, text):
    x0, x1, y0, y1 = FRAMES[key]
    annotations.append(dict(x=X((x0 + x1) / 2), y=Y(y0 - 1), xref="paper", yref="paper",
                            text=text, showarrow=False, xanchor="center", yanchor="bottom",
                            font=dict(family=SERIF, size=11, color=INK)))


def hist_xy(left, core, right, core_start):
    vals = list(left) + list(core) + list(right)
    x_left = core_start - BIN * len(left) - BIN / 2
    xs, ys = [round(x_left, 3)], [FLOOR]
    for k, v in enumerate(vals):
        xs.append(round(x_left + k * BIN, 3))
        ys.append(FLOOR if v is None else 10 ** v)
    xs.append(round(x_left + len(vals) * BIN, 3))
    ys.append(FLOOR)
    return xs, ys


def box(bx0, by0, bx1, by1):
    shapes.append(dict(type="rect", xref="paper", yref="paper", x0=X(bx0), x1=X(bx1),
                       y0=Y(by1), y1=Y(by0), line=dict(color=INK, width=1),
                       fillcolor="white", layer="above"))


def swatch(lx0, lx1, ly, color, width):
    shapes.append(dict(type="line", xref="paper", yref="paper", x0=X(lx0), x1=X(lx1),
                       y0=Y(ly), y1=Y(ly), line=dict(color=color, width=width), layer="above"))


def label(tx, ty, text, size):
    annotations.append(dict(x=X(tx), y=Y(ty), xref="paper", yref="paper", text=text,
                            showarrow=False, xanchor="left", yanchor="middle",
                            font=dict(family=SERIF, size=size, color=INK)))


def hist_legend(key, labels):
    x0, x1, y0, y1 = FRAMES[key]
    bx1 = x1 - 4
    bx0 = bx1 - 83
    by0 = y0 + 4
    box(bx0, by0, bx1, by0 + 64)
    for k, (color, text) in enumerate(zip([BLUE, GREEN, RED, CYAN], labels)):
        ry = by0 + 9 + k * 15.6
        swatch(bx0 + 7, bx0 + 20, ry, color, 2)
        label(bx0 + 25, ry, text, 9)


def pair_legend(key, labels, centred):
    x0, x1, y0, y1 = FRAMES[key]
    w, h = 62, 15
    if centred:
        bx0 = (x0 + x1) / 2 - w / 2
        by0 = y0 + 7
    else:
        bx0 = x1 - 3 - w
        by0 = y0 + 3
    box(bx0, by0, bx0 + w, by0 + h)
    ry = by0 + h / 2
    swatch(bx0 + 2, bx0 + 7, ry, RED, 1.5)
    label(bx0 + 8, ry, labels[0], 9)
    swatch(bx0 + 27, bx0 + 34, ry, CYAN, 1.5)
    label(bx0 + 36, ry, labels[1], 9)


def add_hist(key, series, fits, labels):
    xr, yr = make_panel(key, True, (-5, 0), ylabel="count")
    for color, left, core, right, c0 in series:
        xs, ys = hist_xy(left, core, right, c0)
        fig.add_trace(go.Scatter(x=xs, y=ys, mode="lines", xaxis=xr, yaxis=yr, hoverinfo="skip",
                                 line=dict(color=color, width=1, shape="hv")))
    for color, fx, fy in fits:
        fig.add_trace(go.Scatter(x=fx, y=[10 ** v for v in fy], mode="lines", xaxis=xr, yaxis=yr,
                                 hoverinfo="skip",
                                 line=dict(color=color, width=1, dash="5px,4px", shape="spline")))
    hist_legend(key, labels)


def add_resid(key, red, cyan, yrange, tickvals, ticktext, ref_turn, labels, tick_size=9.5):
    xr, yr = make_panel(key, False, yrange, ytickvals=tickvals, yticktext=ticktext,
                        ylabel="residual [%]", ytick_size=tick_size)
    for color, vals in ((RED, red), (CYAN, cyan)):
        xs = [round(RES_START + BIN * i, 3) for i in range(len(vals))]
        fig.add_trace(go.Scatter(x=xs, y=vals, mode="lines", xaxis=xr, yaxis=yr, hoverinfo="skip",
                                 line=dict(color=color, width=1)))
    title_above(key, "residual = v(turn 10000) \u2212 v(turn %s)" % ref_turn)
    pair_legend(key, labels, centred=False)


def add_ratio(key, red, red_start, cyan, cyan_start, decades, ref_turn, labels):
    xr, yr = make_panel(key, True, decades, ylabel="ratio")
    for color, vals, start in ((RED, red, red_start), (CYAN, cyan, cyan_start)):
        xs = [round(start + BIN * i, 3) for i in range(len(vals))]
        ys = [v if v > 0 else FLOOR for v in vals]
        fig.add_trace(go.Scatter(x=xs, y=ys, mode="lines", xaxis=xr, yaxis=yr, hoverinfo="skip",
                                 line=dict(color=color, width=1)))
    title_above(key, "ratio = v(turn 10000)/v(turn %s)" % ref_turn)
    pair_legend(key, labels, centred=True)


def hist_labels(v, sub, t0):
    return ["<i>%s</i>(turn %s)" % (v, t0), "<i>p<sub>%s</sub></i>(turn %s)" % (sub, t0),
            "<i>%s</i>(turn 10000)" % v, "<i>p<sub>%s</sub></i>(turn 10000)" % sub]


def pair_labels(v):
    return ["v=<i>%s</i>" % v, "v=<i>p<sub>%s</sub></i>" % v]


def int_ticks(lo, hi):
    vals = list(range(lo, hi + 1))
    return vals, [("\u2212" + str(-k)) if k < 0 else str(k) for k in vals]


def half_ticks(lo, hi):
    vals = [k / 2 for k in range(lo, hi + 1)]
    return vals, [("\u2212%.1f" % -v) if v < 0 else "%.1f" % v for v in vals]


G = CORE_GAUSS
# ---------------- 7th turn pulsing H ----------------
add_hist("A1h",
         [(BLUE, H_X100_L, G, H_X100_R, -2.45), (GREEN, H_PX100_L, G, H_PX100_R, -2.45),
          (RED, H_X10K_L, G, H_X10K_R, -2.45), (CYAN, H_PX10K_L, G, H_PX10K_R, -2.45)],
         [(BLUE, FIT_SIGMA, FIT_UNIT), (GREEN, FIT_SIGMA, FIT_UNIT),
          (RED, FIT_SIGMA, FIT_WIDE), (CYAN, FIT_SIGMA, FIT_WIDE)],
         hist_labels("x", "x", "100"))
tv, tt = int_ticks(-3, 2)
add_resid("A1r", RES_H_X, RES_H_PX, [-3, 2], tv, tt, "100", pair_labels("x"))
add_ratio("A1q", RAT_H_X, RAT_START["H_X"], RAT_H_PX, RAT_START["H_PX"], (-1, 2), "100",
          pair_labels("x"))

add_hist("A2h",
         [(BLUE, H_Y100_L, G, H_Y100_R, -2.45), (GREEN, H_PY100_L, G, H_PY100_R, -2.45),
          (RED, H_Y10K_L, G, H_Y10K_R, -2.45), (CYAN, H_PY10K_L, G, H_PY10K_R, -2.45)],
         [(BLUE, FIT_SIGMA, FIT_UNIT), (GREEN, FIT_SIGMA, FIT_UNIT),
          (RED, FIT_SIGMA, FIT_UNIT), (CYAN, FIT_SIGMA, FIT_UNIT)],
         hist_labels("y", "y", "100"))
tv, tt = half_ticks(-3, 3)
add_resid("A2r", RES_H_Y, RES_H_PY, [-1.5, 1.5], tv, tt, "100", pair_labels("y"))
add_ratio("A2q", RAT_H_Y, RAT_START["H_Y"], RAT_H_PY, RAT_START["H_PY"], (-1, 1), "100",
          pair_labels("y"))

Z_SERIES = [(BLUE, Z300_L, CORE_Z, Z300_R, -2.45), (GREEN, [], PZ300, [], -2.95),
            (RED, Z10K_L, CORE_Z, Z10K_R, -2.45), (CYAN, [], PZ10K, [], -2.95)]
Z_FITS = [(BLUE, FIT_SIGMA, FIT_Z), (GREEN, FIT_SIGMA, FIT_PZ),
          (RED, FIT_SIGMA[2:21], FIT_Z[2:21]), (CYAN, FIT_SIGMA, FIT_PZ)]
add_hist("A3h", Z_SERIES, Z_FITS, hist_labels("z", "z", "300"))
tv, tt = int_ticks(-4, 4)
add_resid("A3r", RES_Z, RES_PZ, [-4, 4], tv, tt, "300", pair_labels("z"), tick_size=8)
add_ratio("A3q", RAT_Z, RAT_START["Z"], RAT_PZ, RAT_START["PZ"], (-1, 1), "300", pair_labels("z"))

# ---------------- 10th turn pulsing V ----------------
add_hist("B1h",
         [(BLUE, V_X100_L, G, V_X100_R, -2.45), (GREEN, V_PX100_L, G, V_PX100_R, -2.45),
          (RED, V_X10K_L, G, V_X10K_R, -2.45), (CYAN, V_PX10K_L, G, V_PX10K_R, -2.45)],
         [(BLUE, FIT_SIGMA, FIT_UNIT), (GREEN, FIT_SIGMA, FIT_UNIT),
          (RED, FIT_SIGMA, FIT_UNIT), (CYAN, FIT_SIGMA, FIT_UNIT)],
         hist_labels("x", "x", "100"))
tv, tt = half_ticks(-4, 2)
add_resid("B1r", RES_V_X, RES_V_PX, [-2, 1], tv, tt, "100", pair_labels("x"))
add_ratio("B1q", RAT_V_X, RAT_START["V_X"], RAT_V_PX, RAT_START["V_PX"], (-1, 1), "100",
          pair_labels("x"))

add_hist("B2h",
         [(BLUE, V_Y100_L, G, V_Y100_R, -2.45), (GREEN, V_PY100_L, G, V_PY100_R, -2.45),
          (RED, V_Y10K_L, G, V_Y10K_R, -2.45), (CYAN, V_PY10K_L, G, V_PY10K_R, -2.45)],
         [(BLUE, FIT_SIGMA, FIT_UNIT), (GREEN, FIT_SIGMA, FIT_UNIT),
          (RED, FIT_SIGMA, FIT_UNIT), (CYAN, FIT_SIGMA, FIT_UNIT)],
         hist_labels("y", "y", "100"))
tv, tt = int_ticks(-4, 2)
add_resid("B2r", RES_V_Y, RES_V_PY, [-4, 2], tv, tt, "100", pair_labels("y"))
add_ratio("B2q", RAT_V_Y, RAT_START["V_Y"], RAT_V_PY, RAT_START["V_PY"], (-1, 1), "100",
          pair_labels("y"))

add_hist("B3h", Z_SERIES, Z_FITS, hist_labels("z", "z", "300"))
tv, tt = int_ticks(-4, 4)
add_resid("B3r", RES_Z, RES_PZ, [-4, 4], tv, tt, "300", pair_labels("z"), tick_size=8)
add_ratio("B3q", RAT_Z, RAT_START["Z"], RAT_PZ, RAT_START["PZ"], (-1, 1), "300", pair_labels("z"))

# group headings
annotations.append(dict(x=X(605), y=Y(15), xref="paper", yref="paper", text="7th turn pulsing H",
                        showarrow=False, xanchor="center", yanchor="middle",
                        font=dict(family=TITLE_FONT, size=27, color="#111")))
annotations.append(dict(x=X(600), y=Y(435), xref="paper", yref="paper", text="10th turn pulsing V",
                        showarrow=False, xanchor="center", yanchor="middle",
                        font=dict(family=TITLE_FONT, size=27, color="#111")))

fig.update_layout(width=W, height=H, margin=dict(l=0, r=0, t=0, b=0), showlegend=False,
                  paper_bgcolor="white", plot_bgcolor="white", annotations=annotations,
                  shapes=shapes, **axes)
fig.write_html("out.html")
